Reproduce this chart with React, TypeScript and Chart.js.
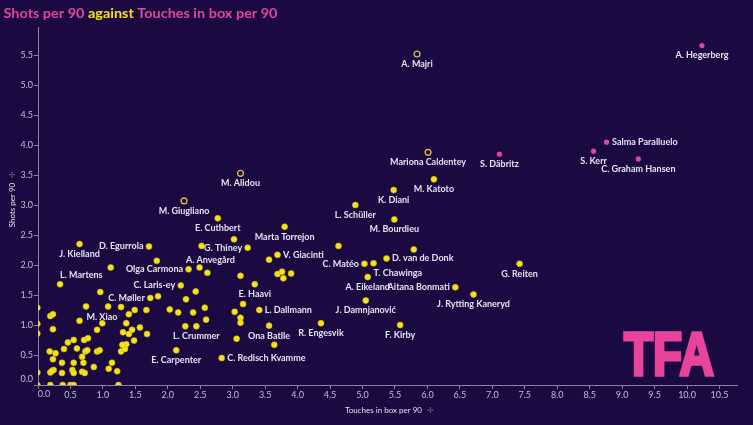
import React, { useEffect, useRef } from 'react';
import { Chart, registerables } from 'chart.js';

Chart.register(...registerables);

// ---------- axis ticks ----------
const xTicks = [0, 0.5, 1, 1.5, 2, 2.5, 3, 3.5, 4, 4.5, 5, 5.5, 6, 6.5, 7, 7.5, 8, 8.5, 9, 9.5, 10, 10.5];
const yTicks = [0, 0.5, 1, 1.5, 2, 2.5, 3, 3.5, 4, 4.5, 5, 5.5];

// ---------- highlighted (pink) players ----------
const pinkPlayers = ['A. Hegerberg', 'Salma Paralluelo', 'S. Kerr', 'C. Graham Hansen', 'S. Däbritz'];
const pinkTouches = [10.23, 8.76, 8.56, 9.25, 7.11];
const pinkShots = [5.66, 4.05, 3.9, 3.77, 3.85];

// ---------- ringed players ----------
const ringPlayers = ['A. Majri', 'Mariona Caldentey', 'M. Alidou', 'M. Giugliano'];
const ringTouches = [5.84, 6.01, 3.12, 2.25];
const ringShots = [5.52, 3.88, 3.53, 3.07];

// ---------- other players (yellow) ----------
const otherPlayers = [
  'K. Diani', 'M. Katoto', 'L. Schüller', 'M. Bourdieu', 'D. van de Donk', 'G. Reiten', 'Aitana Bonmati',
  'J. Rytting Kaneryd', 'F. Kirby', 'J. Damnjanović', 'R. Engesvik', 'A. Eikeland', 'T. Chawinga', 'C. Matéo',
  'V. Giacinti', 'Marta Torrejon', 'E. Cuthbert', 'G. Thiney', 'A. Anvegård', 'Olga Carmona', 'C. Laris-ey',
  'C. Møller', 'D. Egurrola', 'J. Kielland', 'L. Martens', 'M. Xiao', 'E. Haavi', 'L. Dallmann', 'Ona Batlle',
  'C. Redisch Kvamme', 'L. Crummer', 'E. Carpenter',
  // unlabeled, middle
  '', '', '', '', '', '', '', '', '', '', '', '', '', '', '', '', '', '', '', '', '', '', '', '', '', '', '', '', '',
  // unlabeled, lower-left cluster
  '', '', '', '', '', '', '', '', '', '', '', '', '', '', '', '', '', '', '', '', '', '', '', '', '', '', '', '', '', '',
  '', '', '', '', '', '', '', '', '', '', '', '', '', '', '', '', '', '', '', '', '', '', '', '', '', '', '', '', '', '',
  '',
];
const otherTouches = [
  5.48, 6.1, 4.89, 5.49, 5.37, 7.42, 6.43,
  6.71, 5.58, 5.05, 4.36, 5.08, 5.17, 5.03,
  3.69, 3.8, 2.77, 3.23, 2.61, 2.32, 2.2,
  1.73, 1.71, 0.64, 0.34, 0.64, 3.34, 3.41, 3.56,
  2.83, 2.44, 2.13,
  5.79, 4.63, 3.56, 3.69, 3.76, 3.78, 3.9, 3.12, 3.02, 2.52, 2.49, 1.83, 1.12, 2.43, 1.85, 2.28, 0.96, 3.16, 3.03,
  3.12, 3.12, 2.57, 2.59, 2.03, 2.16, 2.39, 2.27, 3.06, 3.64,
  -0.01, -0.01, -0.01, -0.01, -0.01, 0.74, 1.08, 1.28, 1.4, 1.49, 1.67, 0.19, 0.23, 0.99, 0.91, 0.23, 1.36, 1.31,
  1.4, 1.45, 1.57, 1.68, 0.46, 0.55, 0.71, 0.77, 0.4, 0.6, 0.18, 0.27, 0.23, 0.73, 0.76, 0.91, 0.95, 1.28, 1.34,
  1.36, 1.3, 1.48, 0.68, 0.37, 0.55, 0.7, 0.86, 1.14, 0.19, 0.24, 0.21, 0.37, 0.53, 0.55, 0.68, 0.72, 1.09, 1.22,
  0.19, 0.38, 0.5, 0.55, 1.24,
];
const otherShots = [
  3.25, 3.43, 3.0, 2.76, 2.11, 2.02, 1.63,
  1.51, 1.0, 1.41, 1.03, 1.8, 2.03, 2.02,
  2.17, 2.64, 2.78, 2.29, 1.87, 1.93, 1.66,
  1.45, 2.31, 2.35, 1.68, 1.07, 1.68, 1.25, 0.99,
  0.45, 0.98, 0.58,
  2.26, 2.32, 2.09, 1.85, 1.89, 1.78, 1.86, 1.82, 2.43, 2.32, 1.96, 2.07, 1.96, 1.56, 1.48, 1.43, 1.55, 1.35, 1.22,
  1.12, 1.04, 1.29, 1.09, 1.26, 1.21, 1.21, 0.98, 0.77, 0.67,
  1.29, 1.02, 0.86, 0.21, 0.0, 1.31, 1.31, 1.3, 1.18, 1.25, 1.25, 1.15, 1.18, 1.03, 0.92, 0.93, 1.03, 0.88,
  0.85, 0.92, 0.96, 0.85, 0.71, 0.75, 0.75, 0.78, 0.6, 0.61, 0.56, 0.53, 0.43, 0.56, 0.58, 0.56, 0.58, 0.56, 0.6,
  0.68, 0.67, 0.74, 0.47, 0.37, 0.37, 0.37, 0.3, 0.37, 0.21, 0.25, 0.23, 0.2, 0.25, 0.2, 0.22, 0.2, 0.27, 0.23,
  0.0, 0.0, 0.0, 0.0, 0.0,
];

// ---------- label placement (layout only) ----------
const labelSide: Record<string, string> = {
  'A. Hegerberg': 'below', 'Salma Paralluelo': 'right', 'S. Kerr': 'below', 'C. Graham Hansen': 'below',
  'S. Däbritz': 'below', 'A. Majri': 'below', 'Mariona Caldentey': 'below', 'M. Alidou': 'below',
  'M. Giugliano': 'below', 'D. van de Donk': 'right', 'Aitana Bonmati': 'left', 'C. Matéo': 'left',
  'V. Giacinti': 'right', 'G. Thiney': 'left', 'A. Anvegård': 'above', 'Olga Carmona': 'left',
  'C. Laris-ey': 'left', 'C. Møller': 'left', 'D. Egurrola': 'left', 'L. Martens': 'aboveStart',
  'M. Xiao': 'rightUp', 'L. Dallmann': 'right', 'C. Redisch Kvamme': 'right', 'T. Chawinga': 'belowStart',
};

const BG = '#1b0942';
const PINK = '#e2479c';
const YELLOW = '#f3e21d';
const RING = '#d3b548';
const AXIS = '#8a83a4';
const TICK_TEXT = '#c3bcd6';
const LABEL_TEXT = '#e6e0f2';
const FONT = 'Lato, "Noto Sans", sans-serif';

function place(name: string) {
  const s = labelSide[name] || 'below';
  switch (s) {
    case 'right': return { dx: 5.5, dy: 0, align: 'left' };
    case 'left': return { dx: -5.5, dy: 0, align: 'right' };
    case 'above': return { dx: 3, dy: -12.5, align: 'center' };
    case 'aboveStart': return { dx: 0, dy: -9, align: 'left' };
    case 'rightUp': return { dx: 7, dy: -4, align: 'left' };
    case 'belowStart': return { dx: 0, dy: 9.5, align: 'left' };
    default: return { dx: 0, dy: 10, align: 'center' };
  }
}

const tickLabel = (v: any) => (Number(v) === 0 ? '' : Number(v).toFixed(1));

const overlayPlugin = {
  id: 'overlay',
  afterDatasetsDraw(chart: any) {
    const ctx = chart.ctx;
    ctx.save();
    ctx.font = `bold 9px ${FONT}`;
    ctx.fillStyle = LABEL_TEXT;
    ctx.textBaseline = 'middle';
    chart.data.datasets.forEach((ds: any, di: number) => {
      const meta = chart.getDatasetMeta(di);
      meta.data.forEach((el: any, i: number) => {
        const name = ds.names[i];
        if (!name) return;
        const p = place(name);
        ctx.textAlign = p.align;
        ctx.fillText(name, el.x + p.dx, el.y + p.dy);
      });
    });
    ctx.restore();
  },
  afterDraw(chart: any) {
    const ctx = chart.ctx;
    const area = chart.chartArea;
    const xs = chart.scales.x;
    const ys = chart.scales.y;

    // zero tick labels, nudged inwards as in the original
    ctx.save();
    ctx.font = `9px ${FONT}`;
    ctx.fillStyle = TICK_TEXT;
    ctx.textAlign = 'center';
    ctx.textBaseline = 'top';
    ctx.fillText((0).toFixed(1), xs.getPixelForValue(0) + 6, area.bottom + 5);
    ctx.textAlign = 'right';
    ctx.textBaseline = 'middle';
    ctx.fillText((0).toFixed(1), area.left - 5, ys.getPixelForValue(0) - 6);
    ctx.restore();

    // title
    ctx.save();
    const parts: [string, string][] = [
      ['Shots per 90 ', PINK],
      ['against', YELLOW],
      [' Touches in box per 90', PINK],
    ];
    ctx.font = `bold 14px ${FONT}`;
    ctx.textBaseline = 'alphabetic';
    ctx.textAlign = 'left';
    const total = parts.reduce((a, p) => a + ctx.measureText(p[0]).width, 0);
    ctx.translate(3.5, 17.5);
    ctx.scale(274 / total, 1);
    let cx = 0;
    parts.forEach(([t, c]) => {
      ctx.fillStyle = c;
      ctx.fillText(t, cx, 0);
      cx += ctx.measureText(t).width;
    });
    ctx.restore();

    // axis titles
    ctx.save();
    ctx.font = `8px ${FONT}`;
    ctx.textBaseline = 'middle';
    const xt = 'Touches in box per 90';
    const xw = ctx.measureText(xt).width;
    const xc = (area.left + area.right) / 2;
    ctx.textAlign = 'left';
    ctx.fillStyle = LABEL_TEXT;
    ctx.fillText(xt, xc - xw / 2 - 4, 410);
    ctx.fillStyle = '#6f6890';
    ctx.fillText('✢', xc + xw / 2 + 1, 410);

    ctx.translate(12, (area.top + area.bottom) / 2 - 5);
    ctx.rotate(-Math.PI / 2);
    const yt = 'Shots per 90';
    const yw = ctx.measureText(yt).width;
    ctx.fillStyle = LABEL_TEXT;
    ctx.fillText(yt, -yw / 2 - 4, 0);
    ctx.fillStyle = '#6f6890';
    ctx.fillText('✢', yw / 2 + 1, 0);
    ctx.restore();

    // logo
    ctx.save();
    ctx.fillStyle = '#e8449b';
    ctx.strokeStyle = '#e8449b';
    ctx.lineJoin = 'miter';
    ctx.font = `bold 62px "Liberation Sans", Arial, sans-serif`;
    ctx.textBaseline = 'alphabetic';
    ctx.textAlign = 'left';
    const lw = ctx.measureText('TFA').width;
    ctx.translate(624, 375);
    ctx.scale(90 / lw, 1);
    ctx.lineWidth = 3.5;
    ctx.fillText('TFA', 0, 0);
    ctx.strokeText('TFA', 0, 0);
    ctx.restore();
  },
};

export default function App() {
  const ref = useRef<HTMLCanvasElement | null>(null);

  useEffect(() => {
    if (!ref.current) return;
    const toPts = (xs: number[], ys: number[]) => xs.map((x, i) => ({ x, y: ys[i] }));
    const chart = new Chart(ref.current, {
      type: 'scatter',
      data: {
        datasets: [
          {
            names: pinkPlayers,
            data: toPts(pinkTouches, pinkShots),
            backgroundColor: PINK,
            borderColor: PINK,
            borderWidth: 0,
            pointRadius: 2.6,
            clip: 0,
          } as any,
          {
            names: ringPlayers,
            data: toPts(ringTouches, ringShots),
            backgroundColor: BG,
            borderColor: RING,
            borderWidth: 1.4,
            pointRadius: 2.9,
            clip: 0,
          } as any,
          {
            names: otherPlayers,
            data: toPts(otherTouches, otherShots),
            backgroundColor: YELLOW,
            borderColor: '#cdbb10',
            borderWidth: 0.6,
            pointRadius: 3,
            clip: 0,
          } as any,
        ],
      },
      options: {
        animation: false,
        responsive: false,
        maintainAspectRatio: false,
        devicePixelRatio: 1,
        events: [],
        layout: { padding: { top: 27, right: 16, left: 0, bottom: 0 } },
        plugins: { legend: { display: false }, tooltip: { enabled: false }, title: { display: false } },
        scales: {
          x: {
            type: 'linear',
            min: 0,
            max: 10.77,
            afterBuildTicks: (s: any) => { s.ticks = xTicks.map((v) => ({ value: v })); },
            afterFit: (s: any) => { s.height = 40; },
            ticks: {
              color: TICK_TEXT,
              font: { family: FONT, size: 9 },
              padding: 1,
              maxRotation: 0,
              autoSkip: false,
              callback: tickLabel,
            },
            grid: { display: true, drawOnChartArea: false, drawTicks: true, tickLength: 4, color: AXIS },
            border: { display: true, color: AXIS, width: 1 },
          },
          y: {
            type: 'linear',
            min: 0,
            max: 5.97,
            afterBuildTicks: (s: any) => { s.ticks = yTicks.map((v) => ({ value: v })); },
            afterFit: (s: any) => { s.width = 38; },
            ticks: {
              color: TICK_TEXT,
              font: { family: FONT, size: 9 },
              padding: 1,
              autoSkip: false,
              callback: tickLabel,
            },
            grid: { display: true, drawOnChartArea: false, drawTicks: true, tickLength: 4, color: AXIS },
            border: { display: true, color: AXIS, width: 1 },
          },
        },
      } as any,
      plugins: [overlayPlugin],
    });
    return () => chart.destroy();
  }, []);

  return (
    <div style={{ position: 'absolute', left: 0, top: 0, width: 753, height: 425, background: BG }}>
      <canvas ref={ref} width={753} height={425} style={{ display: 'block', width: 753, height: 425 }} />
    </div>
  );
}
